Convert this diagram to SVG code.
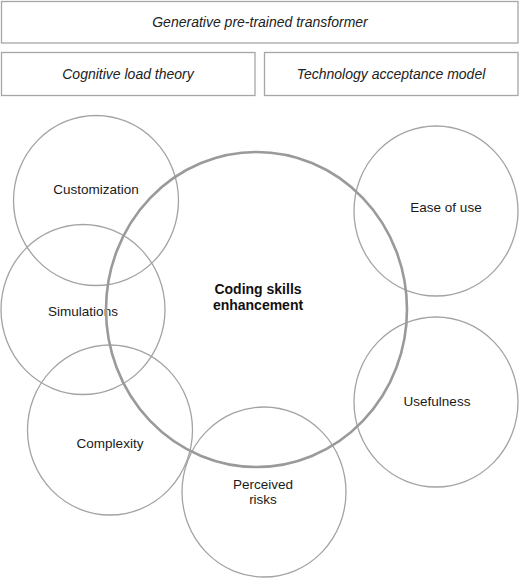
<svg xmlns="http://www.w3.org/2000/svg" width="520" height="578" viewBox="0 0 520 578">
<style>
.box{fill:#fff;stroke:#a6a6a6;stroke-width:1.3}
.hdr{font-family:"Liberation Sans",Arial,sans-serif;font-style:italic;font-size:14px;fill:#222;text-anchor:middle}
.c{fill:none;stroke:#a3a3a3;stroke-width:1.3}
.main{fill:none;stroke:#9a9a9a;stroke-width:2.6}
.lbl{font-family:"Liberation Sans",Arial,sans-serif;font-size:13.5px;fill:#1a1a1a;text-anchor:middle}
.bold{font-weight:bold;font-size:14px;fill:#111}
</style>
<rect width="520" height="578" fill="#fff"/>
<g id="gpt"><rect class="box" x="1.5" y="1.5" width="516.5" height="41.5"/><text class="hdr" x="260" y="27">Generative pre-trained transformer</text></g>
<g id="clt"><rect class="box" x="1.5" y="52.5" width="253.5" height="43"/><text class="hdr" x="128" y="79">Cognitive load theory</text></g>
<g id="tam"><rect class="box" x="264.5" y="52.5" width="253.5" height="43"/><text class="hdr" x="391" y="79">Technology acceptance model</text></g>
<g id="customization"><ellipse class="c" cx="96" cy="200.5" rx="82.5" ry="85"/><text class="lbl" x="96" y="194">Customization</text></g>
<g id="simulations"><ellipse class="c" cx="83" cy="309.5" rx="82" ry="85"/><text class="lbl" x="83" y="316">Simulations</text></g>
<g id="complexity"><ellipse class="c" cx="110" cy="430" rx="82.5" ry="85"/><text class="lbl" x="110" y="448">Complexity</text></g>
<g id="risks"><ellipse class="c" cx="264" cy="492" rx="82" ry="85"/><text class="lbl" x="263" y="489">Perceived</text><text class="lbl" x="263" y="504">risks</text></g>
<g id="ease"><ellipse class="c" cx="436" cy="211" rx="82" ry="85"/><text class="lbl" x="446" y="212">Ease of use</text></g>
<g id="usefulness"><ellipse class="c" cx="436" cy="402" rx="82" ry="85"/><text class="lbl" x="437" y="406">Usefulness</text></g>
<g id="coding"><ellipse class="main" cx="256.5" cy="309.5" rx="150.5" ry="157.5"/><text class="lbl bold" x="258" y="294">Coding skills</text><text class="lbl bold" x="258" y="310">enhancement</text></g>
<g id="connectors"/>
</svg>
